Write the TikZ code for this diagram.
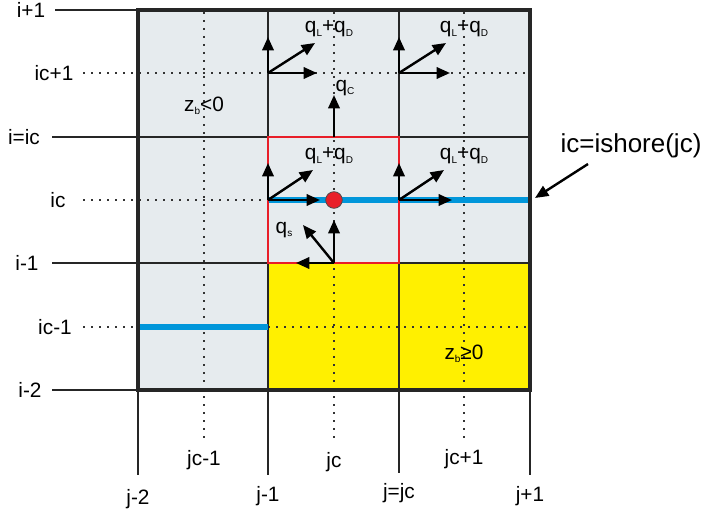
\documentclass[tikz,border=0pt]{standalone}
\usepackage{fontspec}
\setmainfont{Liberation Sans}
\usetikzlibrary{arrows.meta}
\definecolor{cellgray}{RGB}{230,235,238}
\definecolor{sandy}{RGB}{255,240,0}
\definecolor{shoreblue}{RGB}{0,150,218}
\definecolor{boxred}{RGB}{232,30,40}
\newcommand{\sbs}[1]{\raisebox{-2.4pt}{\fontsize{7.5pt}{8pt}\selectfont #1}}
\begin{document}
\begin{tikzpicture}[x=0.75pt,y=-0.75pt,
  lbl/.style={font=\fontsize{15.6pt}{17pt}\selectfont, inner sep=0pt},
  biglbl/.style={font=\fontsize{19.5pt}{21pt}\selectfont, inner sep=0pt},
  gridline/.style={line width=1.7pt, black!85},
  outer/.style={line width=2.5pt, black!85},
  tick/.style={line width=1.4pt, black!85},
  dots/.style={line width=1.2pt, dash pattern=on 1.2pt off 4.8pt, black!80},
  vec/.style={line width=1.8pt, black, -{Triangle[length=10pt,width=8.5pt]}},
  shore/.style={line width=3.8pt, shoreblue},
  redbox/.style={line width=2.1pt, boxred},
]
\useasboundingbox (0,0) rectangle (706,517);
% fills
\fill[cellgray] (138,10) rectangle (530,390);
\fill[sandy] (268,263) rectangle (530,390);
% dotted centre lines
\draw[dots] (204,12) -- (204,442);
\draw[dots] (334,12) -- (334,442);
\draw[dots] (464,12) -- (464,442);
\draw[dots] (83,73) -- (530,73);
\draw[dots] (83,200) -- (268,200);
\draw[dots] (83,327) -- (138,327);
\draw[dots] (268,327) -- (530,327);
% grid lines
\draw[gridline] (138,137) -- (530,137);
\draw[gridline] (138,263) -- (530,263);
\draw[gridline] (268,10) -- (268,390);
\draw[gridline] (399,10) -- (399,390);
% extensions
\draw[tick] (55,10) -- (138,10);
\draw[tick] (52,137) -- (138,137);
\draw[tick] (52,263) -- (138,263);
\draw[tick] (52,390) -- (138,390);
\draw[tick] (138,390) -- (138,475);
\draw[tick] (268,390) -- (268,475);
\draw[tick] (399,390) -- (399,473);
\draw[tick] (530,390) -- (530,475);
% shoreline
\draw[shore] (268,200) -- (528,200);
\draw[shore] (139,327) -- (268,327);
% outer box
\draw[outer] (138,10) rectangle (530,390);
% red cell
\draw[redbox] (268,137) rectangle (399,263);
% coordinates
\coordinate (A) at (268,73);
\coordinate (B) at (399,73);
\coordinate (C) at (268,200);
\coordinate (D) at (399,200);
\coordinate (E) at (334,263);
\coordinate (F) at (334,137);
% arrows
\draw[vec] (A) -- (268,37);
\draw[vec] (A) -- (315,43);
\draw[vec] (A) -- (317,73);
\draw[vec] (B) -- (399,37);
\draw[vec] (B) -- (446,43);
\draw[vec] (B) -- (450,73);
\draw[vec] (F) -- (334,95);
\draw[vec] (C) -- (268,163);
\draw[vec] (C) -- (313,170);
\draw[vec] (C) -- (320,200);
\draw[vec] (D) -- (399,163);
\draw[vec] (D) -- (444,170);
\draw[vec] (D) -- (452,200);
\draw[vec] (E) -- (334,220);
\draw[vec] (E) -- (303,225);
\draw[vec] (E) -- (296,263);
% centre point
\node[circle, fill=boxred, draw=black!70, line width=0.6pt, minimum size=12.5pt, inner sep=0pt] (pt) at (334,200) {};
% flux labels
\node[lbl] (l1) at (329,29) {q\sbs{L}+q\sbs{D}};
\node[lbl] (l2) at (464,29) {q\sbs{L}+q\sbs{D}};
\node[lbl] (l3) at (329,156) {q\sbs{L}+q\sbs{D}};
\node[lbl] (l4) at (464,156) {q\sbs{L}+q\sbs{D}};
\node[lbl] (lc) at (345,88) {q\sbs{C}};
\node[lbl] (ls) at (284,230) {q\sbs{s}};
\node[lbl] (zb1) at (204,106) {z\sbs{b}<0};
\node[lbl] (zb2) at (464,354) {z\sbs{b}≥0};
% row labels
\node[lbl] (r1) at (31,10) {i+1};
\node[lbl] (r2) at (54,73) {ic+1};
\node[lbl] (r3) at (24,137) {i=ic};
\node[lbl] (r4) at (58,200) {ic};
\node[lbl] (r5) at (27,263) {i-1};
\node[lbl] (r6) at (55,327) {ic-1};
\node[lbl] (r7) at (30,390) {i-2};
% column labels
\node[lbl] (c1) at (204,460) {jc-1};
\node[lbl] (c2) at (334,462) {jc};
\node[lbl] (c3) at (464,459) {jc+1};
\node[lbl] (c4) at (138,499) {j-2};
\node[lbl] (c5) at (268,496) {j-1};
\node[lbl] (c6) at (399,493) {j=jc};
\node[lbl] (c7) at (530,496) {j+1};
% shore annotation
\node[biglbl] (sh) at (631,146) {ic=ishore(jc)};
\coordinate (shtail) at (588,164);
\coordinate (shtip) at (535,198);
\draw[vec] (shtail) -- (shtip);
\end{tikzpicture}
\end{document}
